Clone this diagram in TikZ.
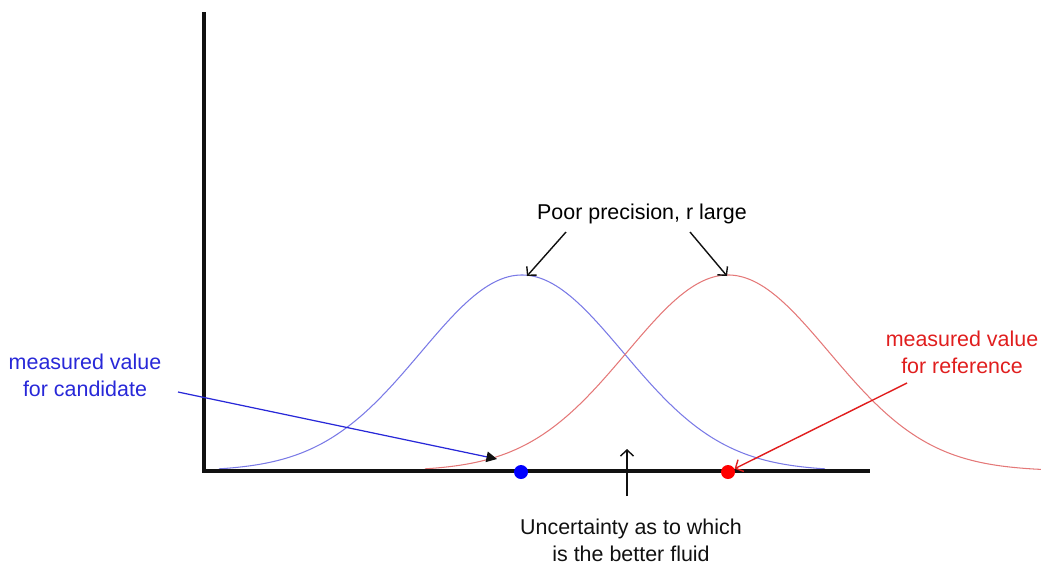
\documentclass[tikz,border=0pt]{standalone}
\usepackage{fontspec}
\setmainfont{Liberation Sans}
\usetikzlibrary{arrows.meta}
\definecolor{cblu}{HTML}{2828D8}
\definecolor{cred}{HTML}{E01E1E}
\definecolor{lblu}{HTML}{7A7AE6}
\definecolor{lred}{HTML}{E47878}
\definecolor{ink}{HTML}{111111}

\begin{document}
\begin{tikzpicture}[
  x=0.02cm, y=-0.02cm,
  font=\fontsize{12.2}{15.5}\selectfont,
  axis/.style={draw=ink, line width=2.2pt},
  curve/.style={line width=0.6pt, smooth},
  lab/.style={align=center, inner sep=1pt},
  point/.style={circle, inner sep=0pt, minimum size=0.28cm},
  open/.style={-{Straight Barb[length=3.5pt,width=7.5pt]}, line width=0.8pt},
  solid/.style={-{Triangle[length=6pt,width=6pt,fill=ink,color=ink]}, line width=0.7pt}
]
\clip (0,0) rectangle (1041,566);
% ---------------------------------------------------------------- curves
\draw[curve, lblu] plot[domain=-3:3, samples=90] ({522+101*\x},{471-196*exp(-0.5*\x*\x)});
\draw[curve, lred] plot[domain=-3:3.1, samples=90] ({728+101*\x},{471-196*exp(-0.5*\x*\x)});

% ---------------------------------------------------------------- axes
\coordinate (origin) at (204,471);
\coordinate (ytop) at (204,12);
\coordinate (xend) at (870,471);
\draw[axis] (ytop) -- (origin) -- (xend);

% ---------------------------------------------------------------- points
\node[point, fill=blue] (cand) at (521,472) {};
\node[point, fill=red] (ref) at (728,472) {};
\coordinate (bpeak) at (527,276);
\coordinate (rpeak) at (727,276);
\coordinate (tail) at (497,459);
\coordinate (gap) at (627,449);

% ---------------------------------------------------------------- labels
\node[lab] (prec) at (642,214) {Poor precision, r large};
\node[lab, text=cblu] (candlab) at (85,375) {measured value\\for candidate};
\node[lab, text=cred] (reflab) at (962,352) {measured value\\for reference};
\node[lab, text=ink] (unc) at (631,540) {Uncertainty as to which\\is the better fluid};

\coordinate (precL) at (566,232);
\coordinate (precR) at (690,232);
\coordinate (candS) at (178,392);
\coordinate (refS) at (907,383);
\coordinate (uncS) at (627,496);

% ---------------------------------------------------------------- arrows
\draw[open, ink] (precL) -- (bpeak);
\draw[open, ink] (precR) -- (rpeak);
\draw[solid, cblu] (candS) -- (tail);
\draw[open, cred] (refS) -- (ref);
\draw[open, ink] (uncS) -- (gap);
\end{tikzpicture}
\end{document}
